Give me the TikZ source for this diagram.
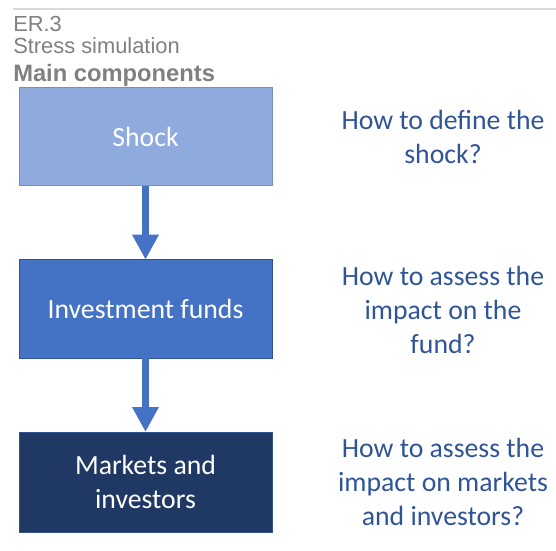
\documentclass[tikz,border=0pt]{standalone}
\usepackage{fontspec}
\setmainfont{Carlito}
\newfontfamily\arialfont{Liberation Sans}
\usetikzlibrary{arrows.meta}
\definecolor{hdrgray}{HTML}{808080}
\definecolor{rulegray}{HTML}{D9D9D9}
\definecolor{lightblue}{HTML}{8FAADC}
\definecolor{midblue}{HTML}{4472C4}
\definecolor{navy}{HTML}{203864}
\definecolor{boxedge}{HTML}{2F528F}
\definecolor{qblue}{HTML}{2F5597}
\tikzset{
  compbox/.style={draw=boxedge, line width=0.75pt, minimum width=189.75pt, minimum height=74pt,
    inner sep=0pt, outer sep=0pt, text=white, align=center,
    font=\fontsize{20.8pt}{25pt}\selectfont},
  question/.style={text=qblue, align=center, inner sep=0pt,
    font=\fontsize{20.8pt}{25.5pt}\selectfont},
  header/.style={anchor=base west, inner sep=0pt, text=hdrgray,
    font=\arialfont\fontsize{16.4pt}{18pt}\selectfont},
  flowarrow/.style={draw=midblue, line width=5.25pt,
    -{Triangle[width=18.75pt,length=18.75pt]}}
}
\begin{document}
\begin{tikzpicture}[x=0.75pt,y=-0.75pt]
\useasboundingbox (0,0) rectangle (556,550);
\coordinate (ruleL) at (13,8.5);
\coordinate (ruleR) at (556,8.5);
\draw[rulegray, line width=1.5pt] (ruleL) -- (ruleR);
\node[header] (h1) at (13,31.5) {ER.3};
\node[header] (h2) at (13,53) {Stress simulation};
\node[header, font=\arialfont\bfseries\fontsize{17.8pt}{18pt}\selectfont] (h3) at (13,81) {Main components};

\node[compbox, fill=lightblue, draw=lightblue!70!boxedge] (shock) at (145.5,136.5) {Shock};
\node[compbox, fill=midblue] (funds) at (145.5,309) {Investment funds};
\node[compbox, fill=navy, minimum height=75pt] (markets) at (145.5,482) {Markets and\\investors};

\draw[flowarrow] (shock.south) -- (funds.north);
\draw[flowarrow] (funds.south) -- (markets.north);

\node[question] (q1) at (443,137) {How to define the\\shock?};
\node[question] (q2) at (443,310) {How to assess the\\impact on the\\fund?};
\node[question] (q3) at (443,482) {How to assess the\\impact on markets\\and investors?};
\end{tikzpicture}
\end{document}
